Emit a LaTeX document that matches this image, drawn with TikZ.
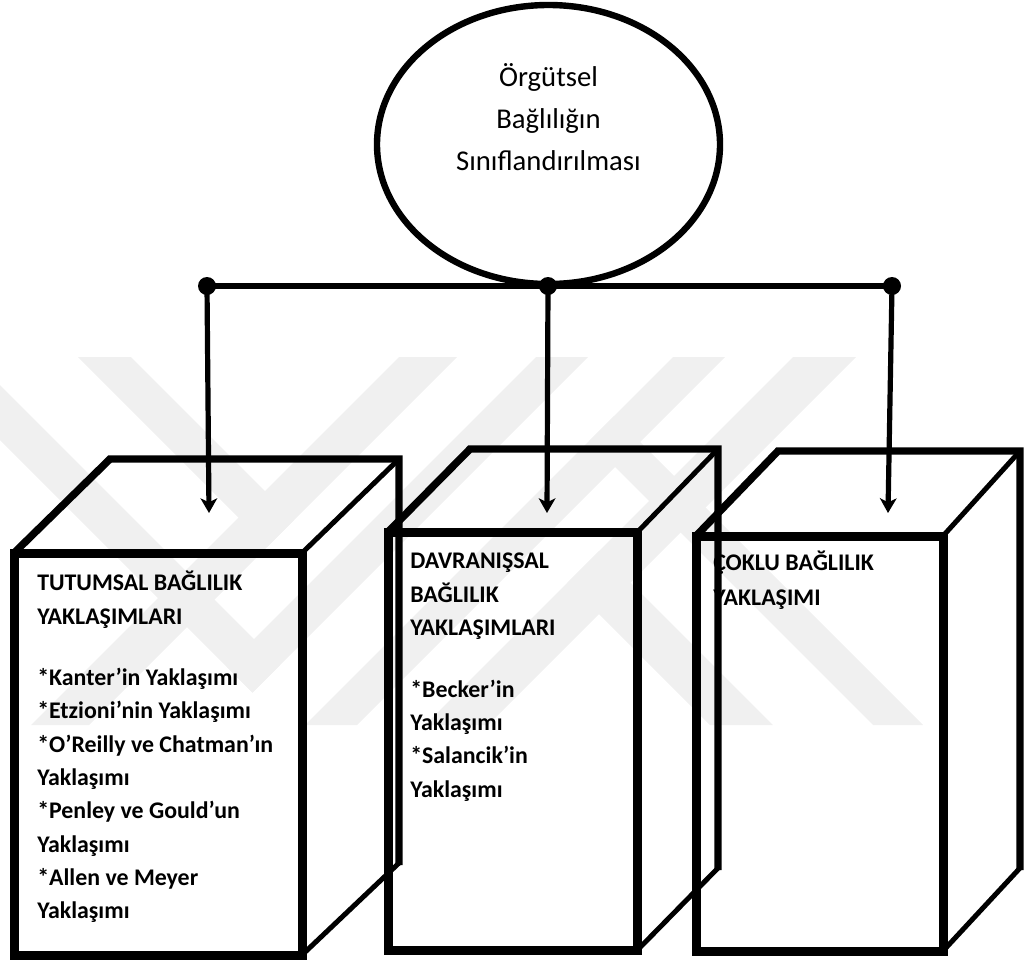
\documentclass[tikz,border=0pt]{standalone}
\usepackage{fontspec}
\setmainfont{Carlito}
\usetikzlibrary{arrows.meta,shapes.geometric}
\definecolor{wm}{RGB}{240,240,240}
\begin{document}
\begin{tikzpicture}[x=0.75pt,y=-0.75pt,
  lbl/.style={anchor=base west,inner sep=0pt,font=\bfseries\fontsize{17.9}{21}\selectfont},
  ctr/.style={anchor=base,inner sep=0pt,font=\fontsize{21.5}{25}\selectfont},
  facefront/.style={line width=6.75pt,line join=miter},
  faceout/.style={line width=5.6pt,line join=miter},
  facethin/.style={line width=3.75pt},
  dot/.style={circle,fill=black,inner sep=0pt,minimum size=13.5pt},
  arr/.style={line width=3.9pt,-{Stealth[length=11pt,width=12.5pt,inset=3pt]}},
  bar/.style={line width=3.9pt}
]
\useasboundingbox (0,0) rectangle (1024,964);

% watermark
\begin{scope}
\clip (0,357) rectangle (1024,725);
\fill[wm] (399,357) -- (457,357) -- (89,725) -- (31,725) -- cycle;
\fill[wm] (78,357) -- (131,357) -- (294,520) -- (267.5,546.5) -- cycle;
\fill[wm] (536,357) -- (588,357) -- (252.5,692.5) -- (226.5,666.5) -- cycle;
\fill[wm] (0,385) -- (280,665) -- (252.5,692.5) -- (0,440) -- cycle;
\fill[wm] (673,357) -- (725,357) -- (357,725) -- (305,725) -- cycle;
\fill[wm] (793,357) -- (856,357) -- (488,725) -- (425,725) -- cycle;
\fill[wm] (599,551) -- (773,725) -- (710,725) -- (567.5,582.5) -- cycle;
\fill[wm] (614,416) -- (923,725) -- (873,725) -- (589,441) -- cycle;
\end{scope}

% texts in the boxes
\node[lbl] (t1) at (37,590) {TUTUMSAL BAĞLILIK};
\node[lbl] (t2) at (37,624) {YAKLAŞIMLARI};
\node[lbl] (t3) at (37,685) {*Kanter’in Yaklaşımı};
\node[lbl] (t4) at (37,718) {*Etzioni’nin Yaklaşımı};
\node[lbl] (t5) at (37,752) {*O’Reilly ve Chatman’ın};
\node[lbl] (t6) at (37,785) {Yaklaşımı};
\node[lbl] (t7) at (37,818) {*Penley ve Gould’un};
\node[lbl] (t8) at (37,852) {Yaklaşımı};
\node[lbl] (t9) at (37,885) {*Allen ve Meyer};
\node[lbl] (t10) at (37,918) {Yaklaşımı};

\node[lbl] (m1) at (410,568) {DAVRANIŞSAL};
\node[lbl] (m2) at (410,602) {BAĞLILIK};
\node[lbl] (m3) at (410,635) {YAKLAŞIMLARI};
\node[lbl] (m4) at (410,697) {*Becker’in};
\node[lbl] (m5) at (410,730) {Yaklaşımı};
\node[lbl] (m6) at (410,763) {*Salancik’in};
\node[lbl] (m7) at (410,797) {Yaklaşımı};

\node[lbl] (r1) at (713,570) {ÇOKLU BAĞLILIK};
\node[lbl] (r2) at (713,605) {YAKLAŞIMI};

% left cube
\draw[faceout] (14,955) -- (14,553) -- (110,459) -- (399,459) -- (399,865);
\draw[facethin] (399,863) -- (302,955);
\draw[facethin] (302,553) -- (399,459);
\draw[facefront] (14,553) rectangle (302,955);

% middle cube
\draw[faceout] (388,950) -- (388,532) -- (470,449) -- (718,449) -- (718,870);
\draw[facethin] (718,868) -- (637.5,950);
\draw[facethin] (637.5,532) -- (718,449);
\draw[facefront] (388,532) rectangle (637.5,950);

% right cube
\draw[faceout] (696,951) -- (696,536) -- (778,451) -- (1020,451) -- (1020,870);
\draw[facethin] (1020,868) -- (943,951);
\draw[facethin] (943,536) -- (1020,451);
\draw[facefront] (696,536) rectangle (943,951);

% root ellipse
\node[ellipse,draw,line width=4.8pt,minimum width=257.25pt,minimum height=209.25pt,inner sep=0pt] (root) at (548.5,144.5) {};
\node[ctr] (rt1) at (548.5,86) {Örgütsel};
\node[ctr] (rt2) at (548.5,128) {Bağlılığın};
\node[ctr] (rt3) at (548.5,170) {Sınıflandırılması};

% connectors
\node[dot] (d1) at (207,286) {};
\node[dot] (d2) at (548,286) {};
\node[dot] (d3) at (892,286) {};
\draw[bar] (d1.center) -- (d3.center);
\coordinate (e1) at (209,513);
\coordinate (e2) at (547,513);
\coordinate (e3) at (888,513);
\draw[arr] (d1.center) -- (e1);
\draw[arr] (d2.center) -- (e2);
\draw[arr] (d3.center) -- (e3);
\end{tikzpicture}
\end{document}
